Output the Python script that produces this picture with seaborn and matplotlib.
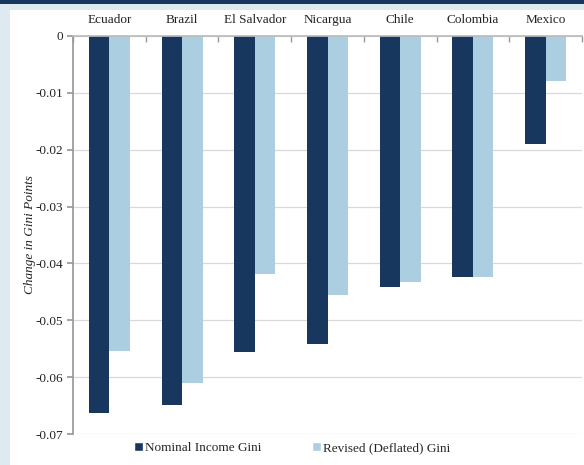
import numpy as np
import pandas as pd
import matplotlib
matplotlib.use('Agg')
import matplotlib.pyplot as plt
from matplotlib.patches import Rectangle
from matplotlib.ticker import FixedLocator, FuncFormatter
import seaborn as sns

# Data
countries = ['Ecuador', 'Brazil', 'El Salvador', 'Nicargua', 'Chile', 'Colombia', 'Mexico']
nominal_gini = [-0.0663, -0.0649, -0.0556, -0.0541, -0.0441, -0.0424, -0.0190]
revised_gini = [-0.0554, -0.0610, -0.0419, -0.0455, -0.0433, -0.0424, -0.0080]
series_names = ['Nominal Income Gini', 'Revised (Deflated) Gini']
y_ticks = [0, -0.01, -0.02, -0.03, -0.04, -0.05, -0.06, -0.07]

df = pd.DataFrame({
    'country': countries * 2,
    'value': nominal_gini + revised_gini,
    'series': [series_names[0]] * len(countries) + [series_names[1]] * len(countries),
})

sns.set_theme(style='white')
plt.rcParams['font.family'] = ['Liberation Serif', 'DejaVu Serif']
plt.rcParams['axes.unicode_minus'] = False

dark = '#17375e'
light = '#abcfe1'

fig = plt.figure(figsize=(5.84, 4.65), dpi=100)
fig.patch.set_facecolor('#dfe9f0')
# white panel and top navy band, kept behind the axes
fig.patches.append(Rectangle((10 / 584, 0), 1, 1 - 10 / 465, transform=fig.transFigure,
                             facecolor='white', edgecolor='none', zorder=-10))
fig.patches.append(Rectangle((0, 1 - 4 / 465), 1, 4 / 465, transform=fig.transFigure,
                             facecolor='#17375e', edgecolor='none', zorder=-10))

ax = fig.add_axes([73 / 584, 1 - 434 / 465, (582 - 73) / 584, (434 - 36) / 465])
ax.set_facecolor('white')

sns.barplot(data=df, x='country', y='value', hue='series', order=countries,
            hue_order=series_names, palette=[dark, light], width=0.565,
            linewidth=0, saturation=1, ax=ax, legend=False)

ax.set_ylim(-0.07, 0)
ax.set_xlim(-0.5, len(countries) - 0.5)
ax.yaxis.set_major_locator(FixedLocator(y_ticks))
ax.yaxis.set_major_formatter(FuncFormatter(lambda v, p: '0' if abs(v) < 1e-9 else f'{v:.2f}'))
ax.grid(axis='y', color='#d9d9d9', linewidth=0.9)
ax.set_axisbelow(True)

ax.xaxis.tick_top()
ax.xaxis.set_label_position('top')
ax.set_xticks(range(len(countries)))
ax.set_xticklabels(countries)
ax.xaxis.set_minor_locator(FixedLocator(np.arange(-0.5, len(countries), 1.0)))
ax.tick_params(axis='x', which='major', length=0, pad=7, labelsize=9.5, colors='#222222')
ax.tick_params(axis='x', which='minor', top=True, direction='in', length=4, color='#999999')
ax.tick_params(axis='y', which='major', left=True, direction='out', length=4,
               color='#999999', labelsize=9.5, labelcolor='#222222', pad=3)

for side in ['right', 'bottom']:
    ax.spines[side].set_visible(False)
ax.spines['left'].set_color('#999999')
ax.spines['top'].set_color('#bbbbbb')

ax.set_xlabel('')
ax.set_ylabel('Change in Gini Points', fontstyle='italic', fontsize=9.5, color='#222222')
ax.yaxis.set_label_coords(-0.072, 0.5)

handles = [Rectangle((0, 0), 1, 1, facecolor=dark), Rectangle((0, 0), 1, 1, facecolor=light)]
fig.legend(handles, series_names, loc='center', bbox_to_anchor=(292 / 584, 1 - 448 / 465),
           ncol=2, frameon=False, fontsize=9.5, handlelength=0.7, handleheight=0.7,
           handletextpad=0.15, columnspacing=3.8)

fig.savefig('out.png', dpi=100, facecolor=fig.get_facecolor())
